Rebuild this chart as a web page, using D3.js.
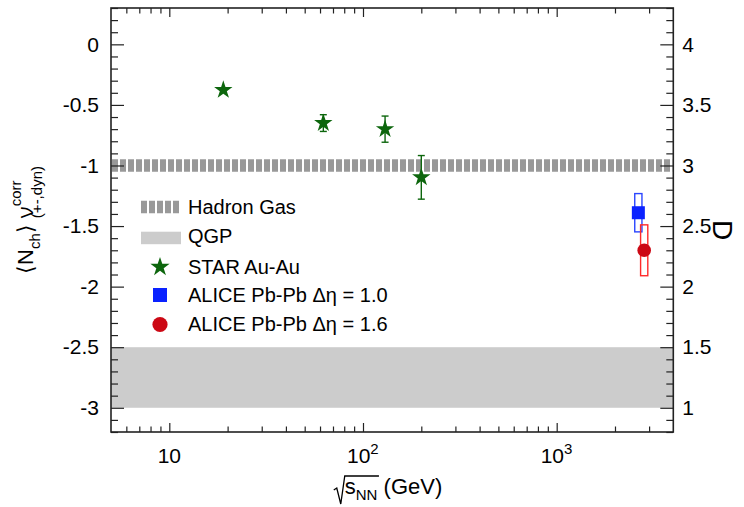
<!DOCTYPE html>
<html>
<head>
<meta charset="utf-8">
<script src="https://cdn.jsdelivr.net/npm/d3@7"></script>
<style>
body { margin: 0; background: #fff; }
svg text { font-family: "Liberation Sans", Arial, Helvetica, sans-serif; fill: #000; }
</style>
</head>
<body>
<script>
// STAR Au-Au points
var starEnergy = [19, 62.4, 130, 200],
    starValue = [-0.377, -0.65, -0.70, -1.098],
    starError = [0, 0.069, 0.108, 0.18];

// ALICE Pb-Pb points (systematic boxes)
var aliceEnergy = [2640, 2830],
    aliceValue = [-1.39, -1.70],
    aliceSys = [0.158, 0.21],
    aliceColor = ["#0a22ff", "#cc0814"],
    aliceBoxColor = ["#2a45ff", "#ff2a2a"];

var hadronGasLevel = -1,
    qgpRange = [-3.0, -2.5];

var xMajorTicks = [10, 100, 1000],
    xMajorExp = ["", "2", "3"],
    yMajorTicks = [0, -0.5, -1, -1.5, -2, -2.5, -3],
    dMajorTicks = [4, 3.5, 3, 2.5, 2, 1.5, 1];

var legendLabels = ["Hadron Gas", "QGP", "STAR Au-Au", "ALICE Pb-Pb \u0394\u03b7 = 1.0", "ALICE Pb-Pb \u0394\u03b7 = 1.6"];

var W = 744, H = 507,
    m = {l: 111, t: 8, r: 70.7, b: 75},
    x = d3.scaleLog().domain([5, 4000]).range([m.l, W - m.r]),
    y = d3.scaleLinear().domain([-3.2, 0.3]).range([H - m.b, m.t]),
    yD = d3.scaleLinear().domain([0.8, 4.3]).range([H - m.b, m.t]);

var svg = d3.select("body").append("svg")
    .attr("width", W).attr("height", H);

var green = "#0d660d";

// bands
svg.append("rect")
    .attr("x", x.range()[0]).attr("width", x.range()[1] - x.range()[0])
    .attr("y", y(qgpRange[1])).attr("height", y(qgpRange[0]) - y(qgpRange[1]))
    .attr("fill", "#cccccc");

svg.append("line")
    .attr("x1", x.range()[0] + 1).attr("x2", x.range()[1] - 1)
    .attr("y1", y(hadronGasLevel)).attr("y2", y(hadronGasLevel))
    .attr("stroke", "#999").attr("stroke-width", 12.5)
    .attr("stroke-dasharray", "6,2");

// axes
var xMinor = x.ticks().filter(d => xMajorTicks.indexOf(d) < 0 && d > 5 && d < 4000),
    yMinor = d3.range(-32, 4).map(i => i / 10).filter(v => Math.abs(v * 2 - Math.round(v * 2)) > 1e-6),
    fmt = d => String(+d.toFixed(2));

function style(g, size) {
    g.select(".domain").remove();
    g.selectAll("line").attr("stroke", "#222").attr("stroke-width", 1.2);
    g.attr("font-size", size).attr("font-family", null);
}

var yb = y.range()[0], yt = y.range()[1], xl = x.range()[0], xr = x.range()[1];

svg.append("g").attr("transform", `translate(0,${yb})`)
    .call(d3.axisBottom(x).tickValues(xMinor).tickSize(-5.5).tickFormat(""))
    .call(style, 21);
svg.append("g").attr("transform", `translate(0,${yb})`)
    .call(d3.axisBottom(x).tickValues(xMajorTicks).tickSize(-9).tickFormat(""))
    .call(style, 21);
svg.append("g").attr("transform", `translate(0,${yt})`)
    .call(d3.axisTop(x).tickValues(xMinor).tickSize(-5.5).tickFormat(""))
    .call(style, 21);
svg.append("g").attr("transform", `translate(0,${yt})`)
    .call(d3.axisTop(x).tickValues(xMajorTicks).tickSize(-9).tickFormat(""))
    .call(style, 21);

svg.append("g").attr("transform", `translate(${xl},0)`)
    .call(d3.axisLeft(y).tickValues(yMinor).tickSize(-7).tickFormat(""))
    .call(style, 21);
svg.append("g").attr("transform", `translate(${xl},0)`)
    .call(d3.axisLeft(y).tickValues(yMajorTicks).tickSize(-13).tickPadding(12).tickFormat(fmt))
    .call(style, 21);
svg.append("g").attr("transform", `translate(${xr},0)`)
    .call(d3.axisRight(yD).tickValues(yMinor.map(v => +(v + 4).toFixed(1))).tickSize(-7).tickFormat(""))
    .call(style, 21);
svg.append("g").attr("transform", `translate(${xr},0)`)
    .call(d3.axisRight(yD).tickValues(dMajorTicks).tickSize(-13).tickPadding(9).tickFormat(fmt))
    .call(style, 21);

// x tick labels with exponents
svg.append("g").selectAll("text").data(xMajorTicks).enter().append("text")
    .attr("font-size", 21)
    .attr("y", 463)
    .each(function(d, i) {
        var t = d3.select(this);
        t.append("tspan").text("10");
        if (xMajorExp[i]) t.append("tspan").attr("dy", -9).attr("font-size", 15).text(xMajorExp[i]);
        var w = this.getComputedTextLength(),
            base = i ? 24 : w;
        t.attr("x", x(d) - base / 2 - (i ? 4 : 0));
    });

// frame
svg.append("rect")
    .attr("x", xl).attr("y", yt).attr("width", xr - xl).attr("height", yb - yt)
    .attr("fill", "none").attr("stroke", "#222").attr("stroke-width", 1.6);

// STAR error bars + stars
var star = svg.append("g").attr("stroke", green).attr("stroke-width", 1.4);
starEnergy.forEach(function(e, i) {
    if (!starError[i]) return;
    var cx = x(e), y1 = y(starValue[i] + starError[i]), y2 = y(starValue[i] - starError[i]);
    star.append("line").attr("x1", cx).attr("x2", cx).attr("y1", y1).attr("y2", y2);
    star.append("line").attr("x1", cx - 3.5).attr("x2", cx + 3.5).attr("y1", y1).attr("y2", y1);
    star.append("line").attr("x1", cx - 3.5).attr("x2", cx + 3.5).attr("y1", y2).attr("y2", y2);
});
svg.append("g").selectAll("path").data(starEnergy).enter().append("path")
    .attr("d", d3.symbol(d3.symbolStar, 105))
    .attr("transform", (d, i) => `translate(${x(d)},${y(starValue[i])})`)
    .attr("fill", green);

// ALICE systematic boxes + markers
aliceEnergy.forEach(function(e, i) {
    var cx = x(e);
    svg.append("rect")
        .attr("x", cx - 3.6).attr("width", 7.2)
        .attr("y", y(aliceValue[i] + aliceSys[i]))
        .attr("height", y(aliceValue[i] - aliceSys[i]) - y(aliceValue[i] + aliceSys[i]))
        .attr("fill", "none").attr("stroke", aliceBoxColor[i]).attr("stroke-width", 1.4);
});
svg.append("rect")
    .attr("x", x(aliceEnergy[0]) - 6.5).attr("y", y(aliceValue[0]) - 6.5)
    .attr("width", 13).attr("height", 13).attr("fill", aliceColor[0]);
svg.append("circle")
    .attr("cx", x(aliceEnergy[1])).attr("cy", y(aliceValue[1]))
    .attr("r", 6.8).attr("fill", aliceColor[1]);

// legend
var lg = svg.append("g");
lg.append("line").attr("x1", 141).attr("x2", 180).attr("y1", 207).attr("y2", 207)
    .attr("stroke", "#999").attr("stroke-width", 12.5).attr("stroke-dasharray", "6,2");
lg.append("rect").attr("x", 141).attr("y", 231.7).attr("width", 40).attr("height", 12.5).attr("fill", "#ccc");
lg.append("path").attr("d", d3.symbol(d3.symbolStar, 115)).attr("transform", "translate(160,267)").attr("fill", green);
lg.append("rect").attr("x", 153).attr("y", 288).attr("width", 14).attr("height", 14).attr("fill", aliceColor[0]);
lg.append("circle").attr("cx", 160).attr("cy", 324.5).attr("r", 7.6).attr("fill", aliceColor[1]);
lg.selectAll("text").data(legendLabels).enter().append("text")
    .attr("x", 188).attr("y", (d, i) => [214, 243.3, 274, 302, 331][i])
    .attr("font-size", 20).text(d => d);

// x title: sqrt(s_NN) (GeV)
var xt = svg.append("text").attr("font-size", 22).attr("y", 494);
xt.append("tspan").text("s");
xt.append("tspan").attr("dy", 6).attr("font-size", 15).text("NN");
xt.append("tspan").attr("dy", -6).text(" (GeV)");
var xtw = xt.node().getComputedTextLength(),
    x0 = 388 - (xtw + 11) / 2 + 11;
xt.attr("x", x0);
var nnEnd = xt.node().getEndPositionOfChar(2).x;
svg.append("path")
    .attr("d", `M${x0 - 11},490 L${x0 - 8},488 L${x0 - 4},504 L${x0},476 L${nnEnd + 1.5},476`)
    .attr("fill", "none").attr("stroke", "#000").attr("stroke-width", 1.3);

// y title: <N_ch> nu^corr_(+-,dyn)
var yt2 = svg.append("text").attr("font-size", 22)
    .attr("transform", "translate(33,220) rotate(-90)");
yt2.append("tspan").text("\u27e8N");
yt2.append("tspan").attr("dy", 7).attr("font-size", 15).text("ch");
yt2.append("tspan").attr("dy", -7).text("\u27e9 ");
yt2.append("tspan").style("font-family", "'Open Sans', sans-serif").text("\u03bd");
var sup = yt2.append("tspan").attr("dy", -12).attr("font-size", 15).text("corr");
var sub = yt2.append("tspan").attr("dy", 21).attr("font-size", 15).text("(+-,dyn)");
var n = yt2.node(),
    supStart = n.getStartPositionOfChar(6).x;
sub.attr("x", supStart);
var bb = n.getBBox();
yt2.attr("transform", `translate(33,220) rotate(-90) translate(${-(bb.x + bb.width / 2)},0)`);

// right title
svg.append("text").attr("font-size", 28).attr("text-anchor", "middle")
    .attr("transform", "translate(713,230) rotate(90)").text("D");
</script>
</body>
</html>
